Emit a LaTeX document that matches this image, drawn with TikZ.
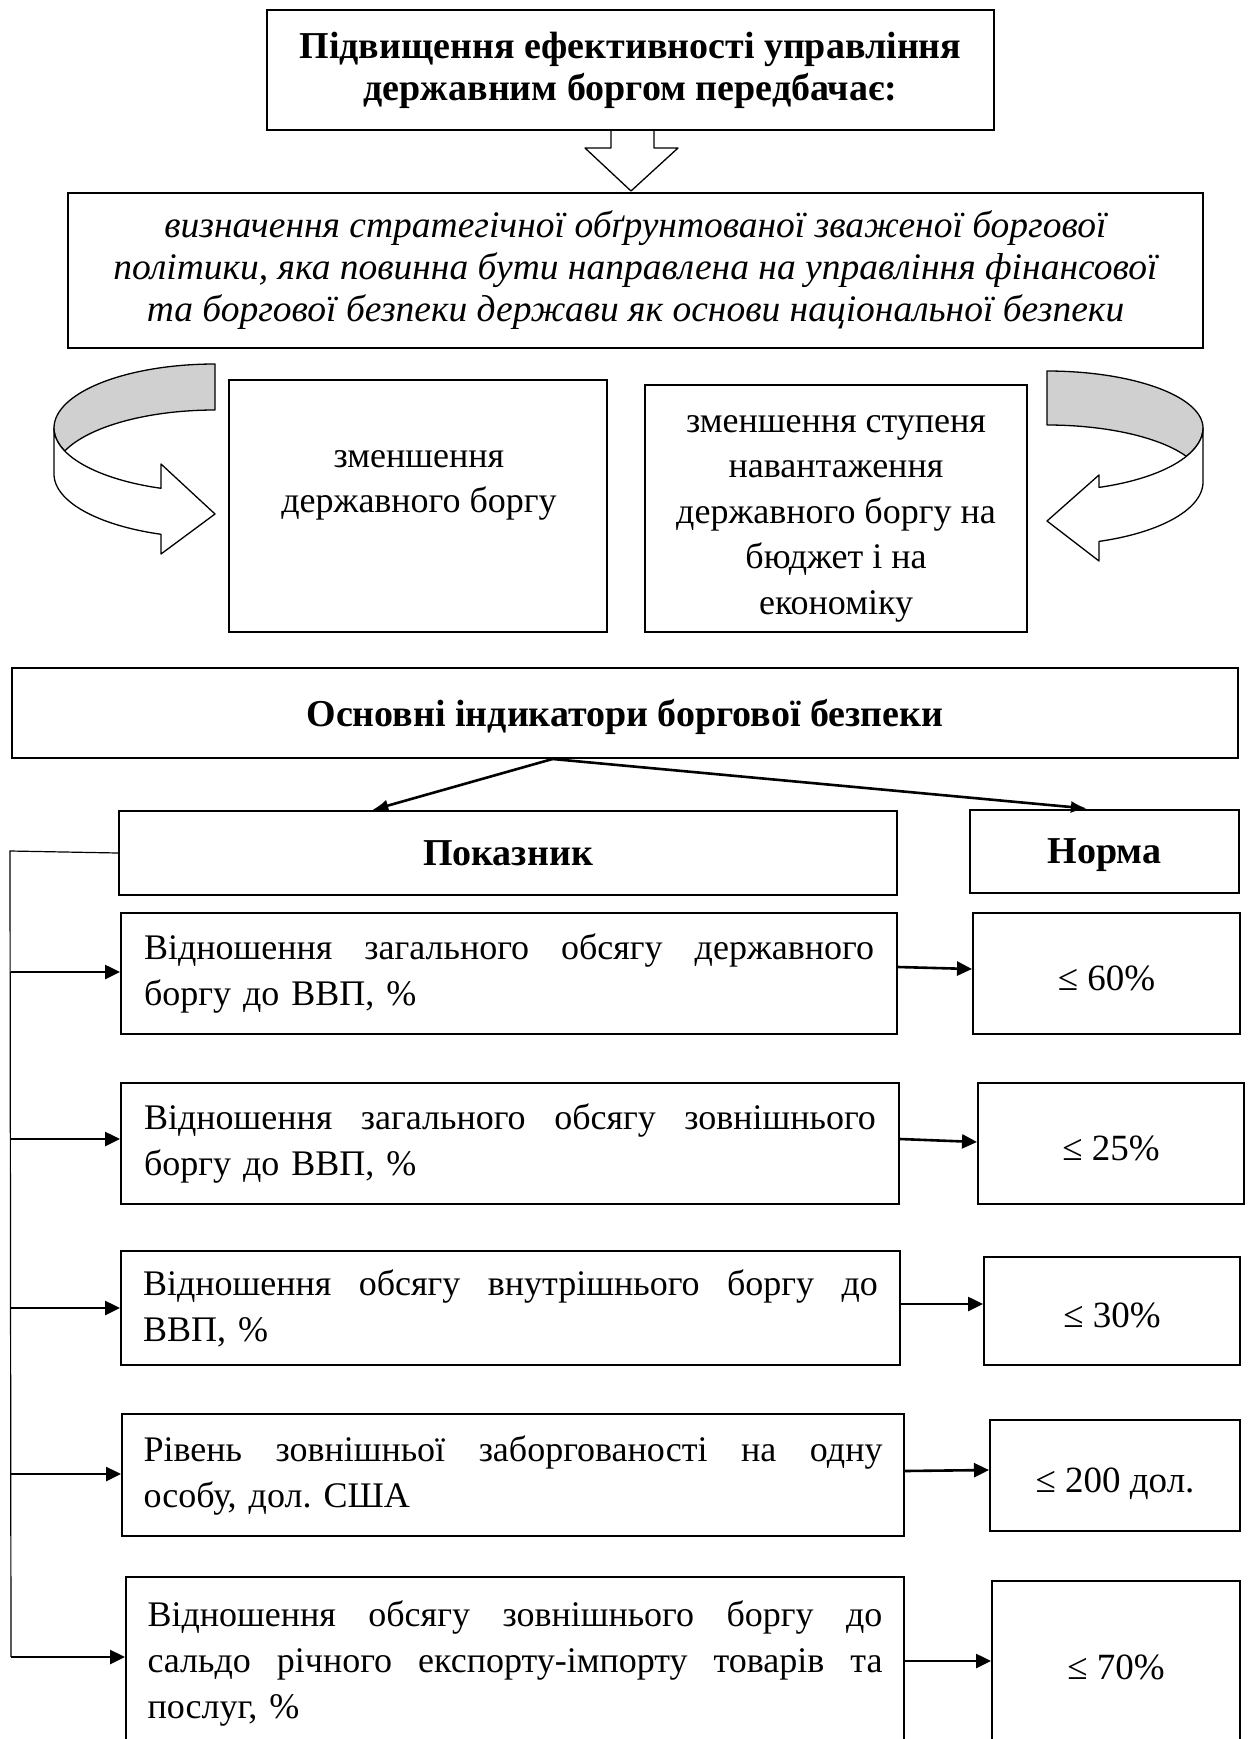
\documentclass[tikz,border=0pt]{standalone}
\usepackage{fontspec}
\setmainfont{Liberation Serif}
\usetikzlibrary{arrows.meta,calc}
\definecolor{ribgray}{RGB}{208,208,208}
\newcommand\jl[2]{\leavevmode\hbox to #1{#2}}
\begin{document}
\begin{tikzpicture}[x=1pt,y=-1pt,
  box/.style={draw, line width=2pt, rectangle, inner sep=0pt, align=center},
  headfont/.style={font=\fontsize{38}{42}\selectfont\bfseries},
  itfont/.style={font=\fontsize{37.5}{42}\selectfont\itshape},
  midfont/.style={font=\fontsize{36}{45}\selectfont},
  rowbox/.style={draw, line width=2pt, rectangle, inner sep=0pt, align=left, font=\fontsize{36}{46}\selectfont},
  normbox/.style={draw, line width=2pt, rectangle, inner sep=0pt, align=center, text height=33pt, text depth=0pt, font=\fontsize{37}{46}\selectfont},
  ribbon/.style={draw, line width=1.3pt, line join=round},
  thinl/.style={draw, line width=1.2pt},
  rowarr/.style={draw, line width=2.6pt, -{Triangle[length=15pt,width=14pt]}},
  mainarr/.style={draw, line width=2.6pt, -{Latex[length=16pt,width=12pt]}}
]
\useasboundingbox (0,0) rectangle (1258,1739);
\clip (0,0) rectangle (1258,1739);

% hollow down arrow
\filldraw[ribbon, fill=white] (611,130) -- (611,148) -- (585,148) -- (631,191) -- (678,148) -- (654,148) -- (654,130);

\node[box, headfont, minimum width=727pt, minimum height=120pt] (t1) at (630.5,70)
  {Підвищення ефективності управління\\державним боргом передбачає:};
\node[box, itfont, minimum width=1135pt, minimum height=155pt] (t2) at (635.5,270.5)
  {визначення стратегічної обґрунтованої зваженої боргової\\політики, яка повинна бути направлена на управління фінансової\\та боргової безпеки держави як основи національної безпеки};

% left curved arrow
\filldraw[ribbon, fill=ribgray]
  plot[domain=-90:-201.1, samples=60, variable=\t] ({215+161*cos(\t)},{428+64*sin(\t)})
  -- plot[domain=-158.9:-90, samples=50, variable=\t] ({215+161*cos(\t)},{474+64*sin(\t)})
  -- cycle;
\filldraw[ribbon, fill=white]
  plot[domain=180:109.6, samples=50, variable=\t] ({215+161*cos(\t)},{428+64*sin(\t)})
  -- (161,464) -- (215,514) -- (161,554)
  -- plot[domain=109.6:180, samples=50, variable=\t] ({215+161*cos(\t)},{474+64*sin(\t)})
  -- cycle;

% right curved arrow
\filldraw[ribbon, fill=ribgray]
  plot[domain=-90:0, samples=50, variable=\t] ({1047+156*cos(\t)},{428+57*sin(\t)})
  -- plot[domain=0:26.7, samples=20, variable=\t] ({1047+156*cos(\t)},{428+63*sin(\t)})
  -- plot[domain=-26.7:-90, samples=50, variable=\t] ({1047+156*cos(\t)},{482+57*sin(\t)})
  -- cycle;
\filldraw[ribbon, fill=white]
  plot[domain=0:70.5, samples=50, variable=\t] ({1047+156*cos(\t)},{428+63*sin(\t)})
  -- (1099,475) -- (1047,521) -- (1099,561)
  -- plot[domain=70.5:0, samples=50, variable=\t] ({1047+156*cos(\t)},{482+63*sin(\t)})
  -- cycle;

% middle boxes
\node[box, minimum width=378pt, minimum height=252pt] (mL) at (418,506) {};
\node[midfont, align=center, inner sep=0pt] (mLt) at (419,485) {зменшення\\державного боргу};
\node[box, minimum width=382pt, minimum height=247pt] (mR) at (836,508.5) {};
\node[font=\fontsize{36}{45.5}\selectfont, align=center, inner sep=0pt] (mRt) at (836,514)
  {\strut зменшення ступеня\\навантаження\\державного боргу на\\бюджет і на\\економіку\strut};

% indicators header
\node[box, headfont, text depth=0pt, minimum width=1226pt, minimum height=90pt] (b1) at (625,713)
  {Основні індикатори боргової безпеки};
\node[box, headfont, text depth=0pt, minimum width=778pt, minimum height=84pt] (ph) at (508,853) {Показник};
\node[box, headfont, text depth=0pt, minimum width=269pt, minimum height=83pt] (nh) at (1104.5,851) {Норма};

\coordinate (bs) at ($(b1.south west)!0.441!(b1.south east)$);
\draw[mainarr] (bs) -- ($(ph.north west)!0.326!(ph.north east)$);
\draw[mainarr] (bs) -- ($(nh.north west)!0.435!(nh.north east)$);

% rows
\node[rowbox, minimum width=776pt, minimum height=121pt, text width=730pt] (r1) at (509,973.5)
  {\jl{730pt}{Відношення\hfill загального\hfill обсягу\hfill державного}\\боргу до ВВП, \%};
\node[rowbox, minimum width=778pt, minimum height=121pt, text width=732pt] (r2) at (510,1143.5)
  {\jl{732pt}{Відношення\hfill загального\hfill обсягу\hfill зовнішнього}\\боргу до ВВП, \%};
\node[rowbox, minimum width=779pt, minimum height=114pt, text width=735pt] (r3) at (510.5,1308)
  {\jl{735pt}{Відношення\hfill обсягу\hfill внутрішнього\hfill боргу\hfill до}\\ВВП, \%};
\node[rowbox, minimum width=782pt, minimum height=122pt, text width=739pt] (r4) at (513,1475)
  {\jl{739pt}{Рівень\hfill зовнішньої\hfill заборгованості\hfill на\hfill одну}\\особу, дол.\ США};
\node[rowbox, minimum width=778pt, minimum height=172pt, text width=735pt] (r5) at (515,1663)
  {\jl{735pt}{Відношення\hfill обсягу\hfill зовнішнього\hfill боргу\hfill до}\\\jl{735pt}{сальдо\hfill річного\hfill експорту-імпорту\hfill товарів\hfill та}\\послуг, \%};

\node[normbox, minimum width=267pt, minimum height=121pt] (n1) at (1106.5,973.5) {≤ 60\%};
\node[normbox, minimum width=266pt, minimum height=121pt] (n2) at (1111,1143.5) {≤ 25\%};
\node[normbox, minimum width=256pt, minimum height=108pt] (n3) at (1112,1311) {≤ 30\%};
\node[normbox, minimum width=250pt, minimum height=111pt] (n4) at (1115,1475.5) {≤ 200 дол.};
\node[normbox, minimum width=248pt, minimum height=164pt] (n5) at (1116,1663) {≤ 70\%};

% bracket line
\coordinate (bt) at (10,851);
\coordinate (v1) at (11,972);
\coordinate (v2) at (11,1139);
\coordinate (v3) at (11,1308);
\coordinate (v4) at (11,1474);
\coordinate (v5) at (11,1657);
\draw[thinl] (ph.west) -- (bt) -- (v5);
\draw[rowarr] (v1) -- (v1 -| r1.west);
\draw[rowarr] (v2) -- (v2 -| r2.west);
\draw[rowarr] (v3) -- (v3 -| r3.west);
\draw[rowarr] (v4) -- (v4 -| r4.west);
\draw[rowarr] (v5) -- (v5 -| r5.west);

\draw[rowarr] ($(r1.east)+(0,-6.5)$) -- ($(n1.west)+(0,-4.5)$);
\draw[rowarr] ($(r2.east)+(0,-4.5)$) -- ($(n2.west)+(0,-1.5)$);
\draw[rowarr] ($(r3.east)+(0,-4)$) -- ($(n3.west)+(0,-7)$);
\draw[rowarr] ($(r4.east)+(0,-4)$) -- ($(n4.west)+(0,-5.5)$);
\draw[rowarr] ($(r5.east)+(0,-2)$) -- ($(n5.west)+(0,-2)$);
\end{tikzpicture}
\end{document}
